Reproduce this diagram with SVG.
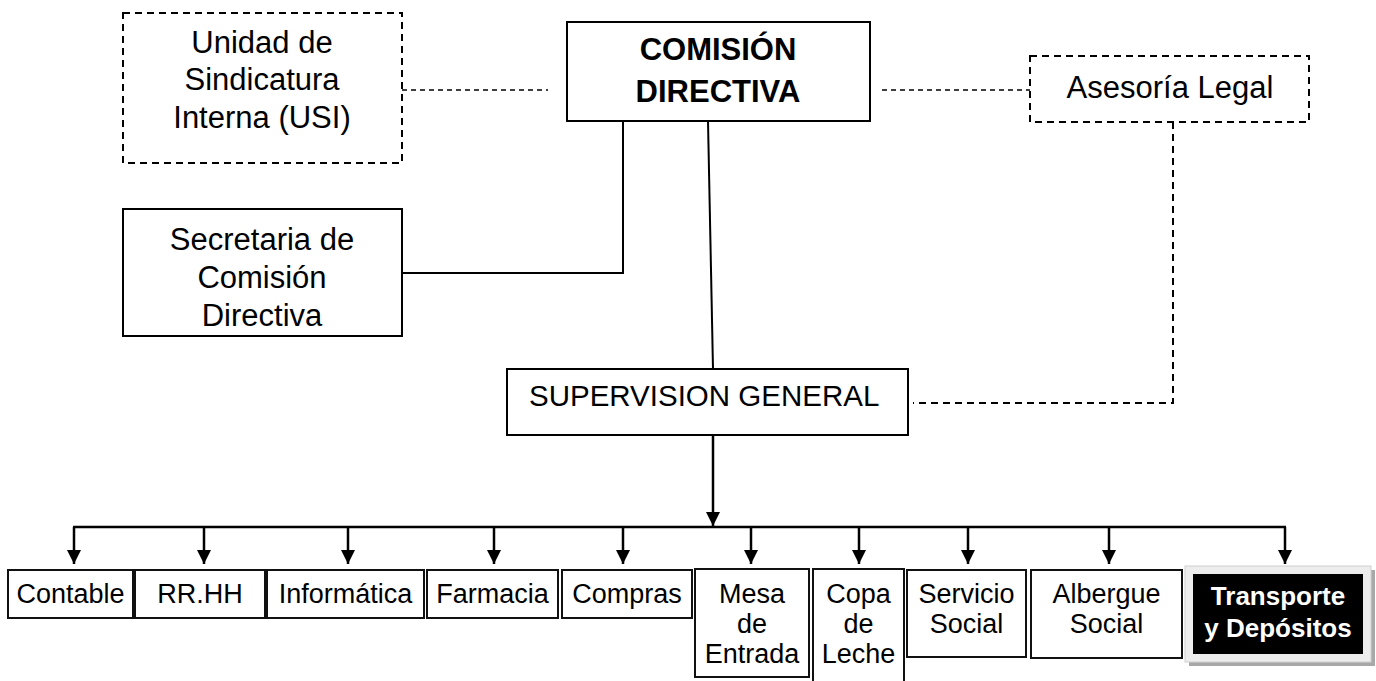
<svg xmlns="http://www.w3.org/2000/svg" width="1376" height="681" viewBox="0 0 1376 681">
  <style>
    .box { fill: #ffffff; stroke: #000000; stroke-width: 2; }
    .dbox { fill: #ffffff; stroke: #000000; stroke-width: 2; stroke-dasharray: 7 5; }
    .unit { fill: #ffffff; stroke: #111111; stroke-width: 2; }
    .t { font-family: "Liberation Sans", Arial, sans-serif; fill: #000000; text-anchor: middle; }
    .start { text-anchor: start; }
    .big { font-size: 31px; }
    .mid { font-size: 29.5px; }
    .sm { font-size: 27px; }
    .bold { font-weight: bold; }
    .inv { font-size: 26px; font-weight: bold; fill: #ffffff; }
    .line { fill: none; stroke: #000000; stroke-width: 2; }
    .bus { fill: none; stroke: #000000; stroke-width: 2.5; }
    .dash { fill: none; stroke: #000000; stroke-width: 1.5; stroke-dasharray: 5 4; }
    .dash2 { fill: none; stroke: #000000; stroke-width: 2; stroke-dasharray: 7 5; }
    .arrow { fill: none; stroke: #000000; stroke-width: 2.5; marker-end: url(#head); }
  </style>
  <defs>
    <marker id="head" markerUnits="userSpaceOnUse" markerWidth="16" markerHeight="16" viewBox="0 0 16 16" refX="15" refY="8" orient="auto">
      <path d="M1,1 L15,8 L1,15 Z" fill="#000000"/>
    </marker>
  </defs>

  <rect width="1376" height="681" fill="#ffffff"/>

  <!-- connectors -->
  <g id="connectors">
    <!-- advisory links (dashed) -->
    <line class="dash" x1="402" y1="90" x2="548" y2="90"/>
    <line class="dash" x1="882" y1="90" x2="1030" y2="90"/>
    <polyline class="dash2" points="1173,122 1173,403 913,403"/>
    <!-- direct lines -->
    <polyline class="line" points="623,121 623,273 402,273"/>
    <line class="line" x1="708" y1="121" x2="713" y2="369"/>
    <!-- supervision to bus -->
    <line class="arrow" x1="713" y1="435" x2="713" y2="526"/>
    <line class="bus" x1="73" y1="527" x2="1286" y2="527"/>
    <!-- bus to units -->
    <line class="arrow" x1="74" y1="527" x2="74" y2="564"/>
    <line class="arrow" x1="204" y1="527" x2="204" y2="564"/>
    <line class="arrow" x1="348" y1="527" x2="348" y2="564"/>
    <line class="arrow" x1="494" y1="527" x2="494" y2="564"/>
    <line class="arrow" x1="623" y1="527" x2="623" y2="564"/>
    <line class="arrow" x1="751" y1="527" x2="751" y2="564"/>
    <line class="arrow" x1="859" y1="527" x2="859" y2="564"/>
    <line class="arrow" x1="968" y1="527" x2="968" y2="564"/>
    <line class="arrow" x1="1109" y1="527" x2="1109" y2="564"/>
    <line class="arrow" x1="1285" y1="527" x2="1285" y2="564"/>
  </g>

  <g id="usi">
    <rect class="dbox" x="123" y="13" width="279" height="150"/>
    <text class="t big" x="262" y="53">Unidad de</text>
    <text class="t big" x="262" y="90">Sindicatura</text>
    <text class="t big" x="262" y="128">Interna (USI)</text>
  </g>

  <g id="comision">
    <rect class="box" x="567" y="22" width="303" height="99"/>
    <text class="t big bold" x="718" y="60">COMISIÓN</text>
    <text class="t big bold" x="718" y="102">DIRECTIVA</text>
  </g>

  <g id="asesoria">
    <rect class="dbox" x="1030" y="56" width="279" height="66"/>
    <text class="t big" x="1170" y="98">Asesoría Legal</text>
  </g>

  <g id="secretaria">
    <rect class="box" x="123" y="209" width="279" height="127"/>
    <text class="t big" x="262" y="250">Secretaria de</text>
    <text class="t big" x="262" y="288">Comisión</text>
    <text class="t big" x="262" y="326">Directiva</text>
  </g>

  <g id="supervision">
    <rect class="box" x="507" y="369" width="401" height="66"/>
    <text class="t mid start" x="529" y="406">SUPERVISION GENERAL</text>
  </g>

  <g id="contable">
    <rect class="unit" x="8" y="570" width="125" height="48"/>
    <text class="t sm" x="70.5" y="603">Contable</text>
  </g>
  <g id="rrhh">
    <rect class="unit" x="135" y="570" width="130" height="48"/>
    <text class="t sm" x="200" y="603">RR.HH</text>
  </g>
  <g id="informatica">
    <rect class="unit" x="267" y="570" width="157" height="48"/>
    <text class="t sm" x="345.5" y="603">Informática</text>
  </g>
  <g id="farmacia">
    <rect class="unit" x="427" y="570" width="131" height="48"/>
    <text class="t sm" x="492.5" y="603">Farmacia</text>
  </g>
  <g id="compras">
    <rect class="unit" x="562" y="570" width="130" height="48"/>
    <text class="t sm" x="627" y="603">Compras</text>
  </g>
  <g id="mesa">
    <rect class="unit" x="695" y="569" width="114" height="108"/>
    <text class="t sm" x="752" y="603">Mesa</text>
    <text class="t sm" x="752" y="633">de</text>
    <text class="t sm" x="752" y="663">Entrada</text>
  </g>
  <g id="copa">
    <rect class="unit" x="813" y="569" width="91" height="125"/>
    <text class="t sm" x="858.5" y="603">Copa</text>
    <text class="t sm" x="858.5" y="633">de</text>
    <text class="t sm" x="858.5" y="663">Leche</text>
  </g>
  <g id="servicio">
    <rect class="unit" x="907" y="570" width="119" height="87"/>
    <text class="t sm" x="966.5" y="603">Servicio</text>
    <text class="t sm" x="966.5" y="633">Social</text>
  </g>
  <g id="albergue">
    <rect class="unit" x="1031" y="570" width="151" height="88"/>
    <text class="t sm" x="1106.5" y="603">Albergue</text>
    <text class="t sm" x="1106.5" y="633">Social</text>
  </g>
  <g id="transporte">
    <!-- drop shadow, light frame, black face -->
    <rect x="1189" y="570" width="186" height="96" fill="#a8a8a8"/>
    <rect x="1185" y="566" width="186" height="96" fill="#ededed" stroke="#cfcfcf" stroke-width="1"/>
    <rect x="1193" y="574" width="170" height="80" fill="#000000"/>
    <text class="t inv" x="1278" y="605">Transporte</text>
    <text class="t inv" x="1278" y="637">y Depósitos</text>
  </g>
</svg>
